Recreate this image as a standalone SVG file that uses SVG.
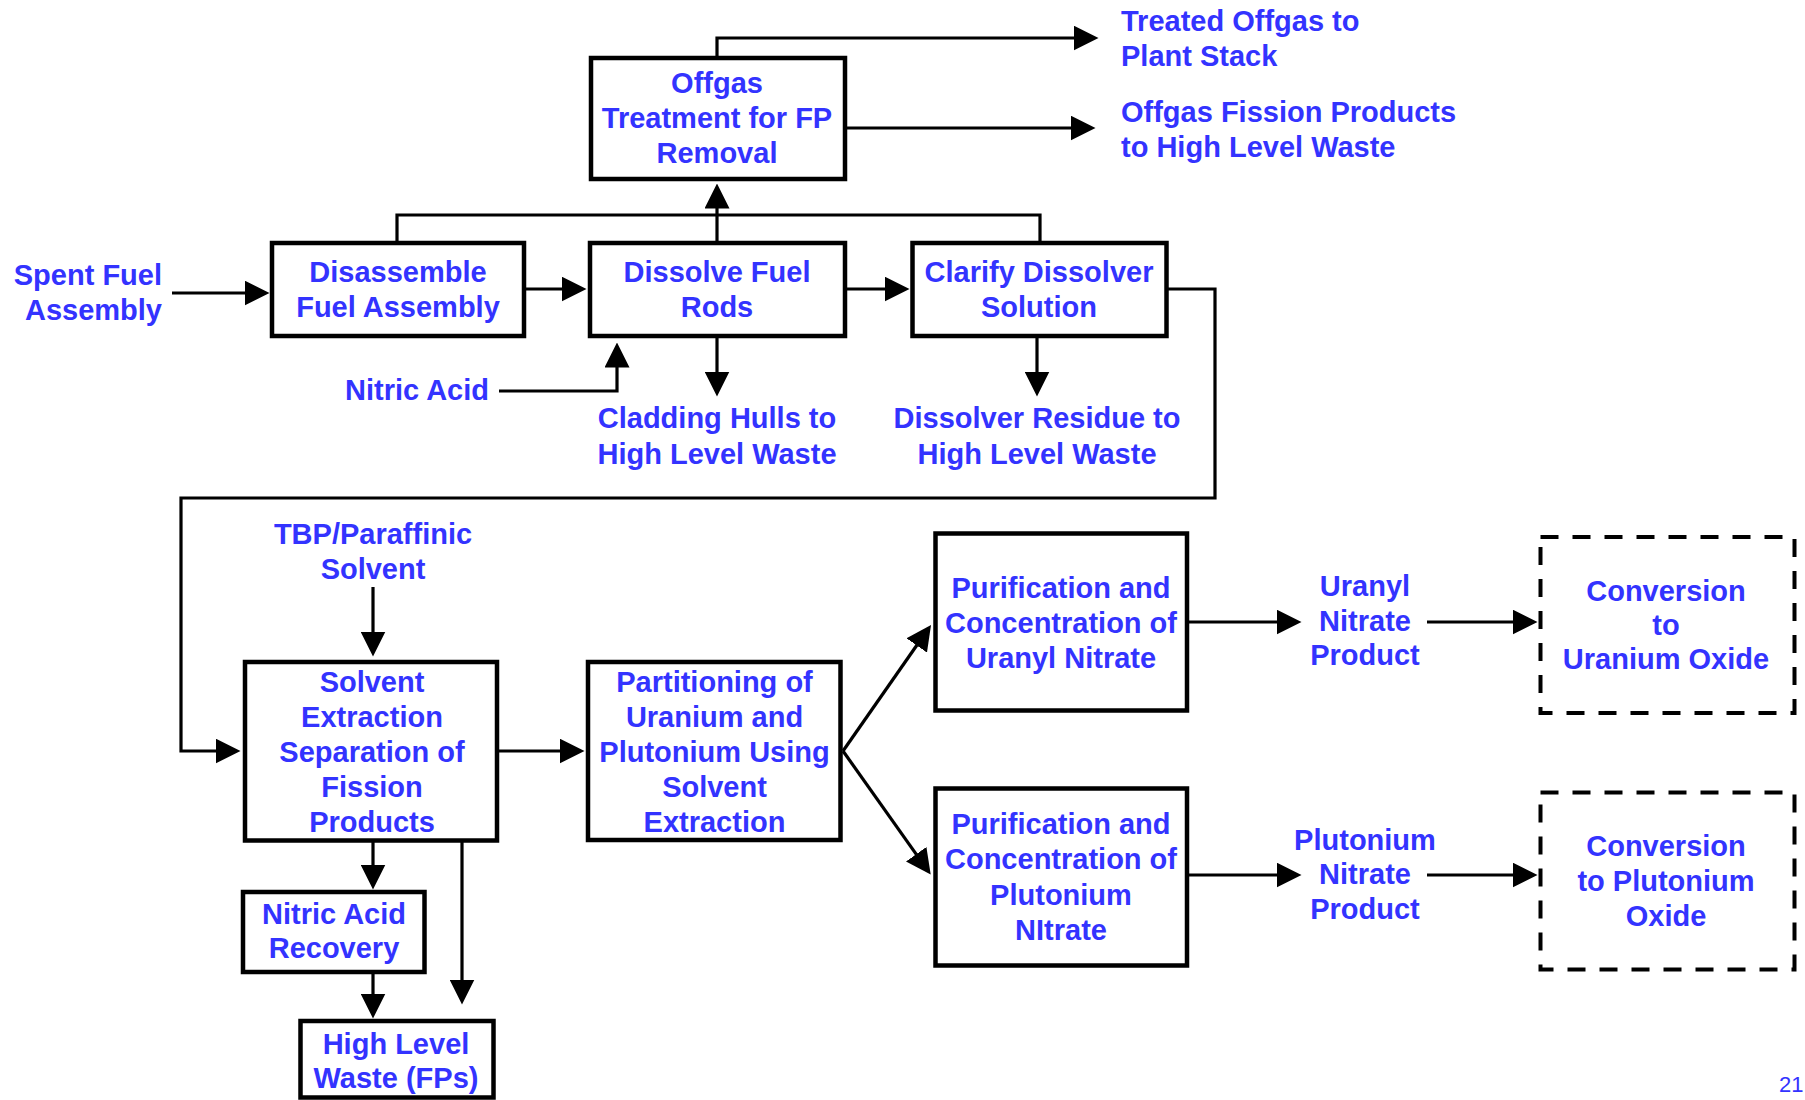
<svg xmlns="http://www.w3.org/2000/svg" width="1805" height="1100" viewBox="0 0 1805 1100">
<style>
.box{fill:#fff;stroke:#000;stroke-width:4.5}
.dash{fill:#fff;stroke:#000;stroke-width:4;stroke-dasharray:18 14}
.t{font-family:"Liberation Sans",Arial,sans-serif;font-weight:bold;font-size:29px;fill:#3333FF;text-anchor:middle}
.l{text-anchor:start}
.r{text-anchor:end}
.c{fill:none;stroke:#000;stroke-width:3.2}
.a{marker-end:url(#ah)}
.pg{font-family:"Liberation Sans",Arial,sans-serif;font-size:22px;fill:#3333FF}
</style>
<defs>
<marker id="ah" markerUnits="userSpaceOnUse" markerWidth="25" markerHeight="25" viewBox="0 0 25 25" refX="0.5" refY="12.5" orient="auto">
<path d="M0,0 L25,12.5 L0,25 z" fill="#000"/>
</marker>
</defs>
<rect width="1805" height="1100" fill="#fff"/>
<g id="connectors">
<path class="c a" d="M717,57 V38 H1074"/>
<path class="c a" d="M846,128 H1071"/>
<path class="c" d="M397,242 V215 H1040 V242"/>
<path class="c a" d="M717,242 V208"/>
<path class="c a" d="M172,293 H245"/>
<path class="c a" d="M526,289 H562"/>
<path class="c a" d="M847,289 H885"/>
<path class="c a" d="M499,391 H617 V367"/>
<path class="c a" d="M717,338 V372"/>
<path class="c a" d="M1037,338 V372"/>
<path class="c a" d="M1168,289 H1215 V498 H181 V751 H216"/>
<path class="c a" d="M373,587 V632"/>
<path class="c a" d="M499,751 H560"/>
<path class="c a" d="M373,842 V865"/>
<path class="c a" d="M462,842 V980"/>
<path class="c a" d="M373,974 V994"/>
<path class="c a" d="M843,751 L917,645"/>
<path class="c a" d="M843,751 L916.5,854.6"/>
<path class="c a" d="M1189,622 H1277"/>
<path class="c a" d="M1427,622 H1513"/>
<path class="c a" d="M1189,875 H1277"/>
<path class="c a" d="M1427,875 H1513"/>
</g>
<g id="offgas">
<rect class="box" x="591" y="58" width="254" height="121"/>
<text class="t" x="717" y="93">Offgas</text>
<text class="t" x="717" y="128">Treatment for FP</text>
<text class="t" x="717" y="163">Removal</text>
</g>
<g id="treated-offgas">
<text class="t l" x="1121" y="31">Treated Offgas to</text>
<text class="t l" x="1121" y="66">Plant Stack</text>
</g>
<g id="offgas-fp">
<text class="t l" x="1121" y="122">Offgas Fission Products</text>
<text class="t l" x="1121" y="157">to High Level Waste</text>
</g>
<g id="spent-fuel">
<text class="t r" x="162" y="285">Spent Fuel</text>
<text class="t r" x="162" y="320">Assembly</text>
</g>
<g id="disassemble">
<rect class="box" x="272" y="243" width="252" height="93"/>
<text class="t" x="398" y="282">Disassemble</text>
<text class="t" x="398" y="317">Fuel Assembly</text>
</g>
<g id="dissolve">
<rect class="box" x="590" y="243" width="255" height="93"/>
<text class="t" x="717" y="282">Dissolve Fuel</text>
<text class="t" x="717" y="317">Rods</text>
</g>
<g id="clarify">
<rect class="box" x="912.5" y="243" width="254" height="93"/>
<text class="t" x="1039" y="282">Clarify Dissolver</text>
<text class="t" x="1039" y="317">Solution</text>
</g>
<g id="nitric-acid">
<text class="t r" x="489" y="400">Nitric Acid</text>
</g>
<g id="cladding">
<text class="t" x="717" y="428">Cladding Hulls to</text>
<text class="t" x="717" y="464">High Level Waste</text>
</g>
<g id="residue">
<text class="t" x="1037" y="428">Dissolver Residue to</text>
<text class="t" x="1037" y="464">High Level Waste</text>
</g>
<g id="tbp">
<text class="t" x="373" y="544">TBP/Paraffinic</text>
<text class="t" x="373" y="579">Solvent</text>
</g>
<g id="solvent-extraction">
<rect class="box" x="245" y="662" width="252" height="178.5"/>
<text class="t" x="372" y="692">Solvent</text>
<text class="t" x="372" y="727">Extraction</text>
<text class="t" x="372" y="762">Separation of</text>
<text class="t" x="372" y="797">Fission</text>
<text class="t" x="372" y="832">Products</text>
</g>
<g id="partitioning">
<rect class="box" x="588" y="662" width="252.5" height="178"/>
<text class="t" x="714.5" y="692">Partitioning of</text>
<text class="t" x="714.5" y="727">Uranium and</text>
<text class="t" x="714.5" y="762">Plutonium Using</text>
<text class="t" x="714.5" y="797">Solvent</text>
<text class="t" x="714.5" y="832">Extraction</text>
</g>
<g id="nitric-acid-recovery">
<rect class="box" x="243" y="892" width="181.5" height="80"/>
<text class="t" x="334" y="924">Nitric Acid</text>
<text class="t" x="334" y="958">Recovery</text>
</g>
<g id="hlw">
<rect class="box" x="300.5" y="1021" width="193" height="76.5"/>
<text class="t" x="396" y="1054">High Level</text>
<text class="t" x="396" y="1088">Waste (FPs)</text>
</g>
<g id="purif-u">
<rect class="box" x="935.5" y="533.5" width="251.5" height="177"/>
<text class="t" x="1061" y="598">Purification and</text>
<text class="t" x="1061" y="633">Concentration of</text>
<text class="t" x="1061" y="668">Uranyl Nitrate</text>
</g>
<g id="uranyl-product">
<text class="t" x="1365" y="596">Uranyl</text>
<text class="t" x="1365" y="631">Nitrate</text>
<text class="t" x="1365" y="665">Product</text>
</g>
<g id="conv-u">
<rect class="dash" x="1540.5" y="537" width="254" height="176"/>
<text class="t" x="1666" y="601">Conversion</text>
<text class="t" x="1666" y="635">to</text>
<text class="t" x="1666" y="669">Uranium Oxide</text>
</g>
<g id="purif-pu">
<rect class="box" x="935.5" y="788.5" width="251.5" height="177"/>
<text class="t" x="1061" y="834">Purification and</text>
<text class="t" x="1061" y="869">Concentration of</text>
<text class="t" x="1061" y="905">Plutonium</text>
<text class="t" x="1061" y="940">NItrate</text>
</g>
<g id="pu-product">
<text class="t" x="1365" y="850">Plutonium</text>
<text class="t" x="1365" y="884">Nitrate</text>
<text class="t" x="1365" y="919">Product</text>
</g>
<g id="conv-pu">
<rect class="dash" x="1540.5" y="792.5" width="254" height="177"/>
<text class="t" x="1666" y="856">Conversion</text>
<text class="t" x="1666" y="891">to Plutonium</text>
<text class="t" x="1666" y="926">Oxide</text>
</g>
<g id="page-number">
<text class="pg" x="1779" y="1092">21</text>
</g>
</svg>
